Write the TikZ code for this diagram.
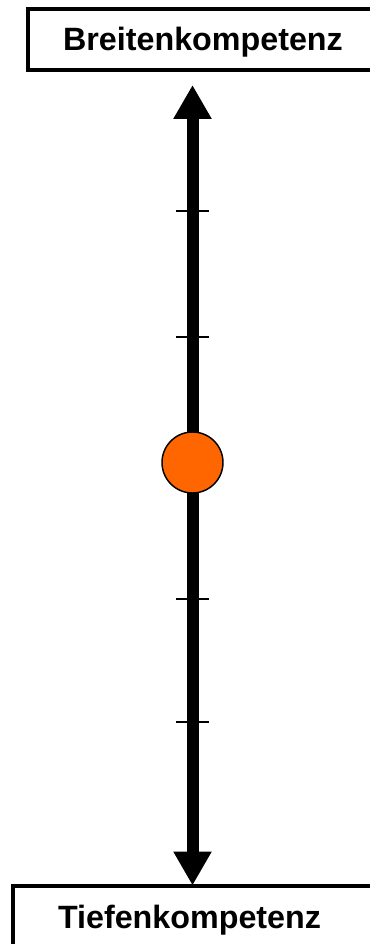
\documentclass[tikz,border=0pt]{standalone}
\usepackage{fontspec}
\setmainfont{Liberation Sans}
\usepackage{tikz}
\usetikzlibrary{arrows.meta}

\tikzset{
    kasten/.style={draw, line width=3pt, inner sep=0pt},
    beschriftung/.style={font=\bfseries\fontsize{24.2}{29}\selectfont, text height=16pt, text depth=0pt, inner sep=0pt},
    achse/.style={line width=9pt, {Triangle[length=25.5pt,width=27pt]}-{Triangle[length=25.5pt,width=27pt]}},
    strich/.style={line width=1.5pt},
}

\begin{document}
\begin{tikzpicture}[x=0.75pt, y=-0.75pt]
    \useasboundingbox (0,0) rectangle (370,944);

    \node[kasten, beschriftung, minimum width=263pt, minimum height=45.5pt] (breite) at (203,39.8) {Breitenkompetenz};
    \draw[kasten] (12.5,885.5) rectangle (420,946.5);
    \node[beschriftung] (tiefe) at (189.5,918) {Tiefenkompetenz};

    \coordinate (spitzeoben) at (192.5,85);
    \coordinate (spitzeunten) at (192.5,885.5);
    \draw[achse] (spitzeunten) -- (spitzeoben);

    \foreach \y in {211,336.7,599,722}
        \draw[strich] (176,\y) -- (208.5,\y);

    \node[circle, draw, line width=1.1pt, fill={rgb,255:red,255;green,102;blue,0}, minimum size=45.75pt, inner sep=0pt] (punkt) at (192.5,462.5) {};
\end{tikzpicture}
\end{document}
